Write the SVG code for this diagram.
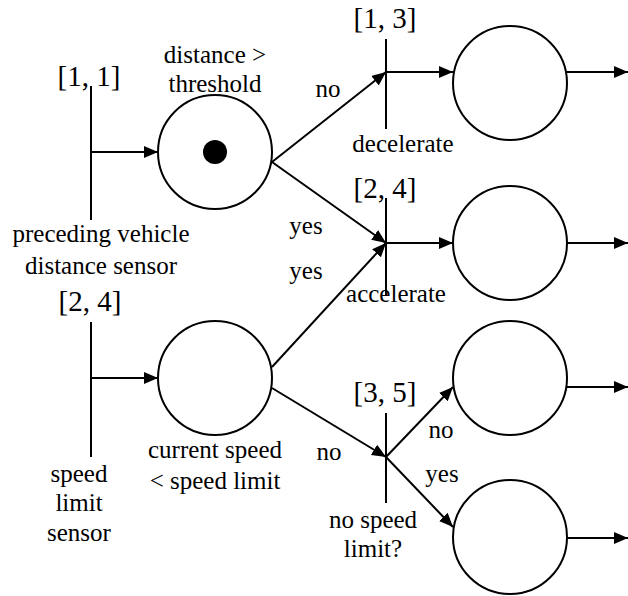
<svg xmlns="http://www.w3.org/2000/svg" width="628" height="596" viewBox="0 0 628 596">
<defs>
<marker id="ah" markerUnits="userSpaceOnUse" markerWidth="15" markerHeight="13" refX="14" refY="6" orient="auto">
<path d="M0,0 L14,6 L0,12 z" fill="#000"/>
</marker>
<style>
.t{font-family:"Liberation Serif","Times New Roman",serif;font-size:25px;fill:#000;text-anchor:middle}
.b{font-family:"Liberation Serif","Times New Roman",serif;font-size:29px;fill:#000;text-anchor:middle}
.ln{stroke:#000;stroke-width:2;fill:none}
.ar{stroke:#000;stroke-width:2;fill:none;marker-end:url(#ah)}
.pl{stroke:#000;stroke-width:2;fill:#fff}
</style>
</defs>
<rect width="628" height="596" fill="#fff"/>
<g id="connectors">
<line class="ar" x1="91" y1="152" x2="158" y2="152"/>
<line class="ar" x1="91" y1="378" x2="158" y2="378"/>
<line class="ar" x1="272" y1="162" x2="386" y2="72"/>
<line class="ar" x1="272" y1="162" x2="386" y2="243"/>
<line class="ar" x1="272" y1="367" x2="386" y2="243"/>
<line class="ar" x1="272" y1="388" x2="386" y2="457"/>
<line class="ar" x1="386" y1="72" x2="453" y2="72"/>
<line class="ar" x1="386" y1="243" x2="453" y2="243"/>
<line class="ar" x1="386" y1="457" x2="453" y2="387"/>
<line class="ar" x1="386" y1="457" x2="453" y2="527"/>
<line class="ar" x1="567" y1="72" x2="628" y2="72"/>
<line class="ar" x1="567" y1="243" x2="628" y2="243"/>
<line class="ar" x1="567" y1="387" x2="628" y2="387"/>
<line class="ar" x1="567" y1="538" x2="628" y2="538"/>
<text class="t" x="328" y="97">no</text>
<text class="t" x="306" y="234">yes</text>
<text class="t" x="306" y="279">yes</text>
<text class="t" x="329" y="460">no</text>
<text class="t" x="441" y="438">no</text>
<text class="t" x="442" y="482">yes</text>
</g>
<g id="t1">
<line class="ln" x1="91" y1="86" x2="91" y2="220"/>
<text class="b" x="89" y="86">[1, 1]</text>
<text class="t" x="101" y="242">preceding vehicle</text>
<text class="t" x="101" y="274">distance sensor</text>
</g>
<g id="t2">
<line class="ln" x1="91" y1="322" x2="91" y2="457"/>
<text class="b" x="90" y="311">[2, 4]</text>
<text class="t" x="79" y="482">speed</text>
<text class="t" x="79" y="511">limit</text>
<text class="t" x="79" y="541">sensor</text>
</g>
<g id="p1">
<circle class="pl" cx="215" cy="152" r="57"/>
<circle cx="215" cy="152" r="12" fill="#000"/>
<text class="t" x="215" y="63">distance &gt;</text>
<text class="t" x="215" y="92">threshold</text>
</g>
<g id="p2">
<circle class="pl" cx="215" cy="378" r="57"/>
<text class="t" x="215" y="458">current speed</text>
<text class="t" x="215" y="489">&lt; speed limit</text>
</g>
<g id="t3">
<line class="ln" x1="386" y1="39" x2="386" y2="129"/>
<text class="b" x="385" y="28">[1, 3]</text>
<text class="t" x="403" y="152">decelerate</text>
</g>
<g id="t4">
<line class="ln" x1="386" y1="198" x2="386" y2="295"/>
<text class="b" x="385" y="198">[2, 4]</text>
<text class="t" x="396" y="302">accelerate</text>
</g>
<g id="t5">
<line class="ln" x1="386" y1="413" x2="386" y2="503"/>
<text class="b" x="385" y="402">[3, 5]</text>
<text class="t" x="373" y="528">no speed</text>
<text class="t" x="373" y="557">limit?</text>
</g>
<g id="p3"><circle class="pl" cx="510" cy="83" r="57"/></g>
<g id="p4"><circle class="pl" cx="510" cy="243" r="57"/></g>
<g id="p5"><circle class="pl" cx="510" cy="378" r="57"/></g>
<g id="p6"><circle class="pl" cx="510" cy="537" r="57"/></g>
</svg>
